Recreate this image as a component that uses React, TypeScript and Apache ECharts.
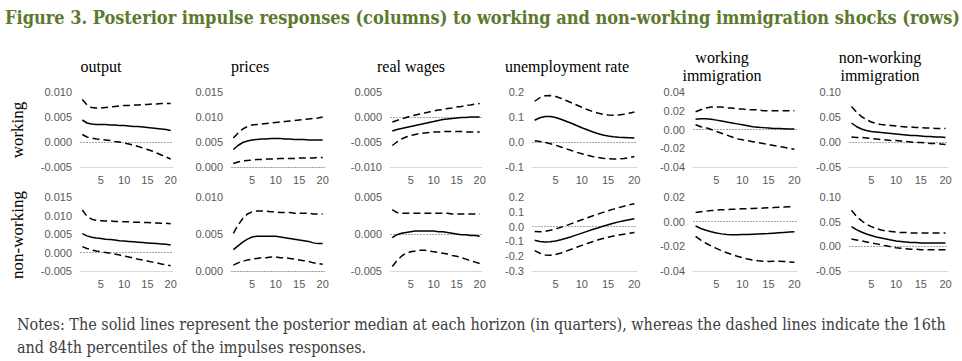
import React, { useEffect, useRef } from 'react';
import * as echarts from 'echarts';

// ---------- DATA ----------
const horizons = ['1','2','3','4','5','6','7','8','9','10','11','12','13','14','15','16','17','18','19','20'];
const shockRows = ['working', 'non-working'];
const variableCols = ['output', 'prices', 'real wages', 'unemployment rate', 'working\nimmigration', 'non-working\nimmigration'];

// Working immigration shock (row 1): 84th pct (hi), median (med), 16th pct (lo)
const wOutputHi = [0.0085,0.0074,0.0069,0.0068,0.0068,0.0069,0.0070,0.0071,0.0072,0.0073,0.0073,0.0074,0.0074,0.0075,0.0075,0.0076,0.0076,0.0077,0.0077,0.0077];
const wOutputMed = [0.0044,0.0038,0.0036,0.0035,0.0035,0.0035,0.0034,0.0034,0.0033,0.0033,0.0032,0.0031,0.0031,0.0030,0.0029,0.0028,0.0027,0.0026,0.0025,0.0023];
const wOutputLo = [0.0015,0.0010,0.0008,0.0006,0.0005,0.0004,0.0003,0.0001,0.0000,-0.0002,-0.0004,-0.0006,-0.0009,-0.0012,-0.0015,-0.0018,-0.0022,-0.0026,-0.0030,-0.0034];

const wPricesHi = [0.0058,0.0068,0.0076,0.0081,0.0084,0.0085,0.0086,0.0087,0.0088,0.0089,0.0090,0.0091,0.0092,0.0093,0.0094,0.0095,0.0096,0.0097,0.0098,0.0100];
const wPricesMed = [0.0035,0.0043,0.0049,0.0052,0.0054,0.0055,0.0056,0.0056,0.0057,0.0057,0.0057,0.0056,0.0056,0.0055,0.0055,0.0055,0.0054,0.0054,0.0054,0.0054];
const wPricesLo = [0.0007,0.0010,0.0012,0.0013,0.0014,0.0015,0.0015,0.0016,0.0016,0.0016,0.0017,0.0017,0.0017,0.0017,0.0018,0.0018,0.0018,0.0018,0.0019,0.0019];

const wWagesHi = [-0.0010,-0.0007,-0.0004,-0.0001,0.0002,0.0004,0.0006,0.0008,0.0010,0.0012,0.0014,0.0015,0.0017,0.0018,0.0020,0.0021,0.0023,0.0024,0.0026,0.0027];
const wWagesMed = [-0.0028,-0.0025,-0.0023,-0.0021,-0.0019,-0.0017,-0.0015,-0.0013,-0.0011,-0.0009,-0.0007,-0.0005,-0.0004,-0.0003,-0.0002,-0.0001,-0.0001,0.0000,0.0000,0.0000];
const wWagesLo = [-0.0057,-0.0050,-0.0044,-0.0040,-0.0037,-0.0035,-0.0033,-0.0032,-0.0031,-0.0030,-0.0030,-0.0029,-0.0029,-0.0029,-0.0029,-0.0029,-0.0030,-0.0030,-0.0030,-0.0030];

const wUnempHi = [0.163,0.177,0.185,0.186,0.182,0.175,0.166,0.157,0.148,0.139,0.130,0.122,0.116,0.111,0.108,0.107,0.108,0.111,0.115,0.120];
const wUnempMed = [0.087,0.097,0.102,0.102,0.098,0.091,0.083,0.075,0.066,0.057,0.049,0.041,0.034,0.028,0.024,0.021,0.019,0.018,0.017,0.016];
const wUnempLo = [0.005,0.002,-0.002,-0.007,-0.013,-0.020,-0.027,-0.034,-0.041,-0.047,-0.053,-0.058,-0.062,-0.065,-0.067,-0.068,-0.068,-0.066,-0.063,-0.058];

const wWorkImmHi = [0.019,0.021,0.023,0.024,0.024,0.024,0.023,0.023,0.022,0.022,0.021,0.021,0.021,0.020,0.020,0.020,0.020,0.020,0.020,0.020];
const wWorkImmMed = [0.011,0.0115,0.0115,0.011,0.010,0.009,0.008,0.007,0.006,0.005,0.004,0.003,0.0025,0.002,0.0015,0.001,0.001,0.0008,0.0005,0.0005];
const wWorkImmLo = [0.005,0.003,0.002,0.000,-0.002,-0.004,-0.006,-0.008,-0.010,-0.011,-0.012,-0.013,-0.014,-0.015,-0.016,-0.017,-0.018,-0.019,-0.020,-0.021];

const wNonWorkImmHi = [0.071,0.060,0.051,0.045,0.040,0.037,0.035,0.034,0.033,0.032,0.031,0.030,0.030,0.029,0.029,0.028,0.028,0.027,0.027,0.027];
const wNonWorkImmMed = [0.038,0.031,0.026,0.023,0.021,0.020,0.019,0.018,0.017,0.016,0.015,0.014,0.013,0.013,0.012,0.011,0.011,0.010,0.010,0.009];
const wNonWorkImmLo = [0.010,0.009,0.009,0.008,0.007,0.006,0.005,0.004,0.003,0.003,0.002,0.001,0.000,-0.001,-0.001,-0.002,-0.003,-0.003,-0.004,-0.005];

// Non-working immigration shock (row 2)
const nOutputHi = [0.0115,0.0098,0.0090,0.0087,0.0086,0.0085,0.0085,0.0084,0.0084,0.0083,0.0083,0.0082,0.0082,0.0081,0.0081,0.0080,0.0080,0.0079,0.0079,0.0078];
const nOutputMed = [0.0051,0.0045,0.0041,0.0039,0.0038,0.0036,0.0035,0.0034,0.0032,0.0031,0.0030,0.0029,0.0028,0.0027,0.0026,0.0025,0.0024,0.0023,0.0022,0.0020];
const nOutputLo = [0.0016,0.0011,0.0007,0.0004,0.0002,0.0000,-0.0002,-0.0004,-0.0007,-0.0010,-0.0012,-0.0015,-0.0018,-0.0020,-0.0023,-0.0026,-0.0028,-0.0031,-0.0033,-0.0036];

const nPricesHi = [0.0051,0.0062,0.0071,0.0077,0.0080,0.0081,0.0081,0.0081,0.0080,0.0080,0.0079,0.0079,0.0079,0.0078,0.0078,0.0078,0.0078,0.0077,0.0077,0.0077];
const nPricesMed = [0.0029,0.0034,0.0039,0.0043,0.0046,0.0047,0.0047,0.0047,0.0047,0.0047,0.0046,0.0045,0.0044,0.0043,0.0042,0.0041,0.0040,0.0038,0.0037,0.0037];
const nPricesLo = [0.0008,0.0011,0.0013,0.0015,0.0016,0.0017,0.0018,0.0018,0.0019,0.0019,0.0018,0.0018,0.0017,0.0016,0.0015,0.0014,0.0013,0.0011,0.0010,0.0009];

const nWagesHi = [0.0033,0.0029,0.0028,0.0028,0.0028,0.0028,0.0028,0.0028,0.0028,0.0028,0.0028,0.0028,0.0028,0.0027,0.0027,0.0027,0.0027,0.0027,0.0027,0.0027];
const nWagesMed = [-0.0005,-0.0001,0.0001,0.0002,0.0003,0.0004,0.0004,0.0004,0.0004,0.0004,0.0003,0.0003,0.0002,0.0001,0.0000,-0.0001,-0.0001,-0.0002,-0.0002,-0.0003];
const nWagesLo = [-0.0044,-0.0036,-0.0030,-0.0026,-0.0024,-0.0023,-0.0022,-0.0022,-0.0023,-0.0024,-0.0025,-0.0026,-0.0027,-0.0029,-0.0030,-0.0032,-0.0034,-0.0036,-0.0038,-0.0040];

const nUnempHi = [-0.033,-0.035,-0.032,-0.025,-0.015,-0.005,0.007,0.020,0.033,0.046,0.059,0.072,0.084,0.096,0.107,0.118,0.128,0.138,0.147,0.155];
const nUnempMed = [-0.092,-0.100,-0.104,-0.103,-0.097,-0.089,-0.079,-0.068,-0.056,-0.044,-0.032,-0.020,-0.009,0.002,0.012,0.022,0.032,0.040,0.047,0.053];
const nUnempLo = [-0.162,-0.180,-0.192,-0.194,-0.188,-0.178,-0.166,-0.153,-0.140,-0.127,-0.114,-0.102,-0.091,-0.081,-0.072,-0.064,-0.057,-0.051,-0.045,-0.040];

const nWorkImmHi = [0.0075,0.0080,0.0085,0.0090,0.0093,0.0096,0.0098,0.0100,0.0102,0.0104,0.0105,0.0107,0.0108,0.0110,0.0112,0.0114,0.0116,0.0118,0.0120,0.0122];
const nWorkImmMed = [-0.0035,-0.0055,-0.0070,-0.0082,-0.0092,-0.0099,-0.0104,-0.0106,-0.0106,-0.0105,-0.0104,-0.0102,-0.0100,-0.0098,-0.0096,-0.0093,-0.0090,-0.0087,-0.0084,-0.0081];
const nWorkImmLo = [-0.0120,-0.0150,-0.0175,-0.0197,-0.0217,-0.0235,-0.0252,-0.0267,-0.0280,-0.0292,-0.0302,-0.0311,-0.0317,-0.0321,-0.0322,-0.0321,-0.0321,-0.0323,-0.0326,-0.0330];

const nNonWorkImmHi = [0.073,0.061,0.052,0.045,0.040,0.036,0.033,0.031,0.030,0.029,0.028,0.028,0.027,0.027,0.027,0.027,0.027,0.027,0.027,0.027];
const nNonWorkImmMed = [0.040,0.034,0.029,0.025,0.022,0.019,0.017,0.015,0.013,0.011,0.010,0.009,0.008,0.008,0.007,0.007,0.007,0.007,0.007,0.007];
const nNonWorkImmLo = [0.015,0.013,0.011,0.009,0.007,0.005,0.003,0.001,-0.001,-0.003,-0.004,-0.005,-0.006,-0.006,-0.007,-0.007,-0.007,-0.007,-0.007,-0.007];

// Axis tick settings (min, max, step) per panel
const row1YMin = [-0.005, 0, -0.010, -0.1, -0.04, -0.05];
const row1YMax = [0.010, 0.015, 0.005, 0.2, 0.04, 0.10];
const row1YStep = [0.005, 0.005, 0.005, 0.1, 0.02, 0.05];
const row2YMin = [-0.005, 0, -0.005, -0.3, -0.04, -0.05];
const row2YMax = [0.015, 0.010, 0.005, 0.2, 0.02, 0.10];
const row2YStep = [0.005, 0.005, 0.005, 0.1, 0.02, 0.05];
const colDecimals = [3, 3, 3, 1, 2, 2];
const xTickLabels = ['5', '10', '15', '20'];

const figureTitle = 'Figure 3. Posterior impulse responses (columns) to working and non-working immigration shocks (rows)';
const notesLine1 = 'Notes: The solid lines represent the posterior median at each horizon (in quarters), whereas the dashed lines indicate the 16th';
const notesLine2 = 'and 84th percentiles of the impulses responses.';

// ---------- LAYOUT ----------
const colLeft = [80, 231, 390, 532, 693, 849];
const colWidth = [93, 94, 92, 105, 104, 99];
const rowTop = [92, 197];
const rowHeight = [75, 74];
const colTitleX = [101, 250, 411, 567, 722, 880];

const panelData = [
  [
    [wOutputHi, wOutputMed, wOutputLo],
    [wPricesHi, wPricesMed, wPricesLo],
    [wWagesHi, wWagesMed, wWagesLo],
    [wUnempHi, wUnempMed, wUnempLo],
    [wWorkImmHi, wWorkImmMed, wWorkImmLo],
    [wNonWorkImmHi, wNonWorkImmMed, wNonWorkImmLo],
  ],
  [
    [nOutputHi, nOutputMed, nOutputLo],
    [nPricesHi, nPricesMed, nPricesLo],
    [nWagesHi, nWagesMed, nWagesLo],
    [nUnempHi, nUnempMed, nUnempLo],
    [nWorkImmHi, nWorkImmMed, nWorkImmLo],
    [nNonWorkImmHi, nNonWorkImmMed, nNonWorkImmLo],
  ],
];

const LABEL_FONT = 'Liberation Sans, Arial, sans-serif';
const SERIF = 'Liberation Serif, Times New Roman, serif';
const COND_SERIF = '"DejaVu Serif Condensed", "DejaVu Serif", serif';

function buildOption() {
  const grid: any[] = [];
  const xAxis: any[] = [];
  const yAxis: any[] = [];
  const series: any[] = [];
  let idx = 0;
  for (let r = 0; r < 2; r++) {
    for (let c = 0; c < 6; c++) {
      grid.push({ left: colLeft[c], top: rowTop[r], width: colWidth[c], height: rowHeight[r], containLabel: false });
      xAxis.push({
        type: 'category',
        gridIndex: idx,
        data: horizons,
        boundaryGap: true,
        axisLine: { show: true, onZero: false, lineStyle: { color: '#d9d9d9', width: 1 } },
        axisTick: { show: false },
        splitLine: { show: false },
        axisLabel: {
          color: '#595959',
          fontSize: 11,
          fontFamily: LABEL_FONT,
          margin: 7,
          interval: (i: number, v: string) => xTickLabels.indexOf(v) >= 0,
        },
      });
      const dec = colDecimals[c];
      yAxis.push({
        type: 'value',
        gridIndex: idx,
        min: r === 0 ? row1YMin[c] : row2YMin[c],
        max: r === 0 ? row1YMax[c] : row2YMax[c],
        interval: r === 0 ? row1YStep[c] : row2YStep[c],
        axisLine: { show: false },
        axisTick: { show: false },
        splitLine: { show: false },
        axisLabel: {
          color: '#595959',
          fontSize: 11,
          fontFamily: LABEL_FONT,
          margin: 8,
          formatter: (v: number) => (Math.abs(v) < 1e-12 ? 0 : v).toFixed(dec),
        },
      });
      const [hi, med, lo] = panelData[r][c];
      series.push({
        type: 'line', xAxisIndex: idx, yAxisIndex: idx, data: hi, symbol: 'none', silent: true,
        lineStyle: { color: '#000', width: 1.5, type: [7, 4] },
      });
      series.push({
        type: 'line', xAxisIndex: idx, yAxisIndex: idx, data: med, symbol: 'none', silent: true,
        lineStyle: { color: '#000', width: 1.5, type: 'solid' },
        markLine: {
          silent: true, symbol: ['none', 'none'], label: { show: false },
          lineStyle: { color: '#a6a6a6', width: 1, type: [2, 1] },
          data: [{ yAxis: 0 }],
          z: 1,
        },
      });
      series.push({
        type: 'line', xAxisIndex: idx, yAxisIndex: idx, data: lo, symbol: 'none', silent: true,
        lineStyle: { color: '#000', width: 1.5, type: [7, 4] },
      });
      idx++;
    }
  }

  const graphic: any[] = [
    {
      type: 'text', x: 5, y: 17,
      style: { text: figureTitle, font: `bold 18px ${COND_SERIF}`, fill: '#5b7a2e', align: 'left', verticalAlign: 'middle' },
    },
  ];
  variableCols.forEach((name, c) => {
    graphic.push({
      type: 'text', x: colTitleX[c], y: 66,
      style: { text: name, font: `16px ${SERIF}`, fill: '#000', align: 'center', verticalAlign: 'middle', lineHeight: 18 },
    });
  });
  const rowCenterY = [130, 235];
  shockRows.forEach((name, r) => {
    graphic.push({
      type: 'text', x: 17, y: rowCenterY[r], rotation: Math.PI / 2,
      style: { text: name, font: `17px ${SERIF}`, fill: '#000', align: 'center', verticalAlign: 'middle' },
    });
  });
  graphic.push({
    type: 'text', x: 17, y: 324,
    style: { text: notesLine1, font: `16px ${COND_SERIF}`, fill: '#404040', align: 'left', verticalAlign: 'middle' },
  });
  graphic.push({
    type: 'text', x: 17, y: 347,
    style: { text: notesLine2, font: `16px ${COND_SERIF}`, fill: '#404040', align: 'left', verticalAlign: 'middle' },
  });

  return { animation: false, backgroundColor: '#fff', grid, xAxis, yAxis, series, graphic };
}

export default function App() {
  const ref = useRef<HTMLDivElement>(null);
  useEffect(() => {
    if (!ref.current) return;
    const chart = echarts.init(ref.current, undefined, { renderer: 'svg' });
    chart.setOption(buildOption() as any);
    return () => chart.dispose();
  }, []);
  return <div ref={ref} style={{ position: 'fixed', left: 0, top: 0, width: 962, height: 361, background: '#fff' }} />;
}
